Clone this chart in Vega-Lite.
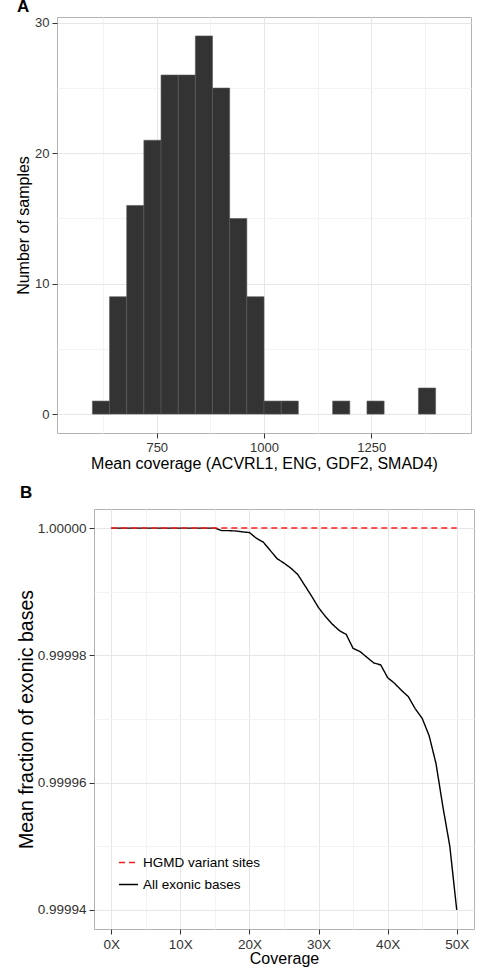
{
  "$schema": "https://vega.github.io/schema/vega-lite/v6.json",
  "padding": {"left": 14, "top": -3, "right": 0, "bottom": 0},
  "background": "white",
  "config": {
    "font": "Liberation Sans",
    "view": {"stroke": "#b3b3b3", "strokeWidth": 1},
    "axis": {
      "domain": false,
      "gridWidth": 1,
      "tickColor": "#333333",
      "tickSize": 5,
      "labelColor": "#333333",
      "labelFontSize": 13,
      "labelFont": "Liberation Sans",
      "titleFont": "Liberation Sans",
      "titleFontSize": 16,
      "titleFontWeight": "normal",
      "titleColor": "#000000",
      "labelPadding": 3
    },
    "title": {"font": "Liberation Sans", "fontSize": 17, "fontWeight": "bold", "anchor": "start", "frame": "group", "color": "#000000"}
  },
  "concat": [
    {
      "width": 1,
      "height": 1,
      "view": {"stroke": null},
      "data": {"values": []},
      "mark": "point",
      "encoding": {}
    },
    {
      "title": {"text": "A", "offset": 1, "dx": -40},
      "width": 414,
      "height": 416,
      "data": {"values": [
        {"start": 600, "end": 640, "count": 1},
        {"start": 640, "end": 680, "count": 9},
        {"start": 680, "end": 720, "count": 16},
        {"start": 720, "end": 760, "count": 21},
        {"start": 760, "end": 800, "count": 26},
        {"start": 800, "end": 840, "count": 26},
        {"start": 840, "end": 880, "count": 29},
        {"start": 880, "end": 920, "count": 25},
        {"start": 920, "end": 960, "count": 15},
        {"start": 960, "end": 1000, "count": 9},
        {"start": 1000, "end": 1040, "count": 1},
        {"start": 1040, "end": 1080, "count": 1},
        {"start": 1160, "end": 1200, "count": 1},
        {"start": 1240, "end": 1280, "count": 1},
        {"start": 1360, "end": 1400, "count": 2}
      ]},
      "mark": {"type": "rect", "fill": "#333333", "stroke": "#595959", "strokeWidth": 0.6},
      "encoding": {
        "x": {"field": "start", "type": "quantitative",
          "scale": {"domain": [517.5, 1482.5], "nice": false, "zero": false},
          "axis": {"values": [625, 750, 875, 1000, 1125, 1250, 1375],
            "labelExpr": "datum.value % 250 == 0 ? datum.value : ''",
            "gridColor": {"condition": {"test": "datum.value % 250 == 0", "value": "#e6e6e6"}, "value": "#f3f3f3"},
            "tickOpacity": {"condition": {"test": "datum.value % 250 == 0", "value": 1}, "value": 0},
            "title": "Mean coverage (ACVRL1, ENG, GDF2, SMAD4)", "titlePadding": 1}},
        "x2": {"field": "end"},
        "y": {"field": "count", "type": "quantitative",
          "scale": {"domain": [-1.45, 30.45], "nice": false},
          "axis": {"values": [0, 5, 10, 15, 20, 25, 30],
            "labelExpr": "datum.value % 10 == 0 ? datum.value : ''",
            "gridColor": {"condition": {"test": "datum.value % 10 == 0", "value": "#e6e6e6"}, "value": "#f3f3f3"},
            "tickOpacity": {"condition": {"test": "datum.value % 10 == 0", "value": 1}, "value": 0},
            "title": "Number of samples", "titlePadding": 3}},
        "y2": {"datum": 0}
      }
    },
    {
      "width": 1,
      "height": 1,
      "view": {"stroke": null},
      "data": {"values": []},
      "mark": "point",
      "encoding": {}
    },
    {
      "title": {"text": "B", "offset": 7, "dx": -74},
      "width": 380,
      "height": 420,
      "data": {"values": [
        {"coverage": 0, "series": "HGMD variant sites", "fraction": 1.0},
        {"coverage": 50, "series": "HGMD variant sites", "fraction": 1.0},
        {"coverage": 0, "series": "All exonic bases", "fraction": 1.0},
        {"coverage": 5, "series": "All exonic bases", "fraction": 1.0},
        {"coverage": 10, "series": "All exonic bases", "fraction": 1.0},
        {"coverage": 15, "series": "All exonic bases", "fraction": 1.0},
        {"coverage": 16, "series": "All exonic bases", "fraction": 0.9999996},
        {"coverage": 17, "series": "All exonic bases", "fraction": 0.9999996},
        {"coverage": 18, "series": "All exonic bases", "fraction": 0.99999955},
        {"coverage": 19, "series": "All exonic bases", "fraction": 0.9999994},
        {"coverage": 20, "series": "All exonic bases", "fraction": 0.9999993},
        {"coverage": 21, "series": "All exonic bases", "fraction": 0.9999984},
        {"coverage": 22, "series": "All exonic bases", "fraction": 0.9999978},
        {"coverage": 23, "series": "All exonic bases", "fraction": 0.9999965},
        {"coverage": 24, "series": "All exonic bases", "fraction": 0.9999952},
        {"coverage": 25, "series": "All exonic bases", "fraction": 0.9999945},
        {"coverage": 26, "series": "All exonic bases", "fraction": 0.9999937},
        {"coverage": 27, "series": "All exonic bases", "fraction": 0.9999927},
        {"coverage": 28, "series": "All exonic bases", "fraction": 0.999991},
        {"coverage": 29, "series": "All exonic bases", "fraction": 0.9999893},
        {"coverage": 30, "series": "All exonic bases", "fraction": 0.9999875},
        {"coverage": 31, "series": "All exonic bases", "fraction": 0.9999861},
        {"coverage": 32, "series": "All exonic bases", "fraction": 0.9999849},
        {"coverage": 33, "series": "All exonic bases", "fraction": 0.9999839},
        {"coverage": 34, "series": "All exonic bases", "fraction": 0.9999833},
        {"coverage": 35, "series": "All exonic bases", "fraction": 0.9999811},
        {"coverage": 36, "series": "All exonic bases", "fraction": 0.9999806},
        {"coverage": 37, "series": "All exonic bases", "fraction": 0.9999797},
        {"coverage": 38, "series": "All exonic bases", "fraction": 0.9999788},
        {"coverage": 39, "series": "All exonic bases", "fraction": 0.9999785},
        {"coverage": 40, "series": "All exonic bases", "fraction": 0.9999765},
        {"coverage": 41, "series": "All exonic bases", "fraction": 0.9999756},
        {"coverage": 42, "series": "All exonic bases", "fraction": 0.9999745},
        {"coverage": 43, "series": "All exonic bases", "fraction": 0.9999735},
        {"coverage": 44, "series": "All exonic bases", "fraction": 0.9999716},
        {"coverage": 45, "series": "All exonic bases", "fraction": 0.9999701},
        {"coverage": 46, "series": "All exonic bases", "fraction": 0.9999674},
        {"coverage": 47, "series": "All exonic bases", "fraction": 0.999963},
        {"coverage": 48, "series": "All exonic bases", "fraction": 0.9999562},
        {"coverage": 49, "series": "All exonic bases", "fraction": 0.99995},
        {"coverage": 50, "series": "All exonic bases", "fraction": 0.99994}
      ]},
      "encoding": {
        "x": {"field": "coverage", "type": "quantitative", "title": "Coverage",
          "scale": {"domain": [-2.5, 52.5], "nice": false, "zero": false},
          "axis": {"values": [0, 5, 10, 15, 20, 25, 30, 35, 40, 45, 50],
            "labelExpr": "datum.value % 10 == 0 ? datum.value + 'X' : ''",
            "labelFontSize": 13.5,
            "gridColor": {"condition": {"test": "datum.value % 10 == 0", "value": "#e6e6e6"}, "value": "#f3f3f3"},
            "tickOpacity": {"condition": {"test": "datum.value % 10 == 0", "value": 1}, "value": 0},
            "titlePadding": 0}},
        "y": {"field": "fraction", "type": "quantitative", "title": "Mean fraction of exonic bases",
          "scale": {"domain": [0.999937, 1.000003], "nice": false, "zero": false},
          "axis": {"values": [0.99994, 0.99995, 0.99996, 0.99997, 0.99998, 0.99999, 1.0],
            "labelExpr": "round(datum.value * 100000) % 2 == 0 ? format(datum.value, '.5f') : ''",
            "labelFontSize": 13.5,
            "titleFontSize": 19.5,
            "gridColor": {"condition": {"test": "round(datum.value * 100000) % 2 == 0", "value": "#e6e6e6"}, "value": "#f3f3f3"},
            "tickOpacity": {"condition": {"test": "round(datum.value * 100000) % 2 == 0", "value": 1}, "value": 0},
            "titlePadding": 1}},
        "color": {"field": "series", "type": "nominal",
          "scale": {"domain": ["HGMD variant sites", "All exonic bases"], "range": ["#ff1a1a", "#000000"]},
          "legend": {"title": null, "orient": "none", "legendX": 24, "legendY": 343, "padding": 0, "symbolType": "stroke", "symbolSize": 360, "symbolStrokeWidth": 1.5, "labelFontSize": 13.5, "labelFont": "Liberation Sans", "labelColor": "#000000", "rowPadding": 5, "labelOffset": 4}},
        "strokeDash": {"field": "series", "type": "nominal",
          "scale": {"domain": ["HGMD variant sites", "All exonic bases"], "range": [[6, 4], [1, 0]]},
          "legend": {"title": null, "orient": "none", "legendX": 24, "legendY": 343, "padding": 0, "symbolType": "stroke", "symbolSize": 360, "symbolStrokeWidth": 1.5, "labelFontSize": 13.5, "labelFont": "Liberation Sans", "labelColor": "#000000", "rowPadding": 5, "labelOffset": 4}}
      },
      "layer": [
        {
          "transform": [{"filter": "datum.series === 'All exonic bases'"}],
          "mark": {"type": "line", "strokeWidth": 1.4}
        },
        {
          "transform": [{"filter": "datum.series === 'HGMD variant sites'"}],
          "mark": {"type": "line", "strokeWidth": 1.5}
        }
      ]
    }
  ],
  "columns": 2,
  "align": "none",
  "spacing": {"row": 11, "column": 0},
  "resolve": {"scale": {"color": "independent", "strokeDash": "independent"}}
}
